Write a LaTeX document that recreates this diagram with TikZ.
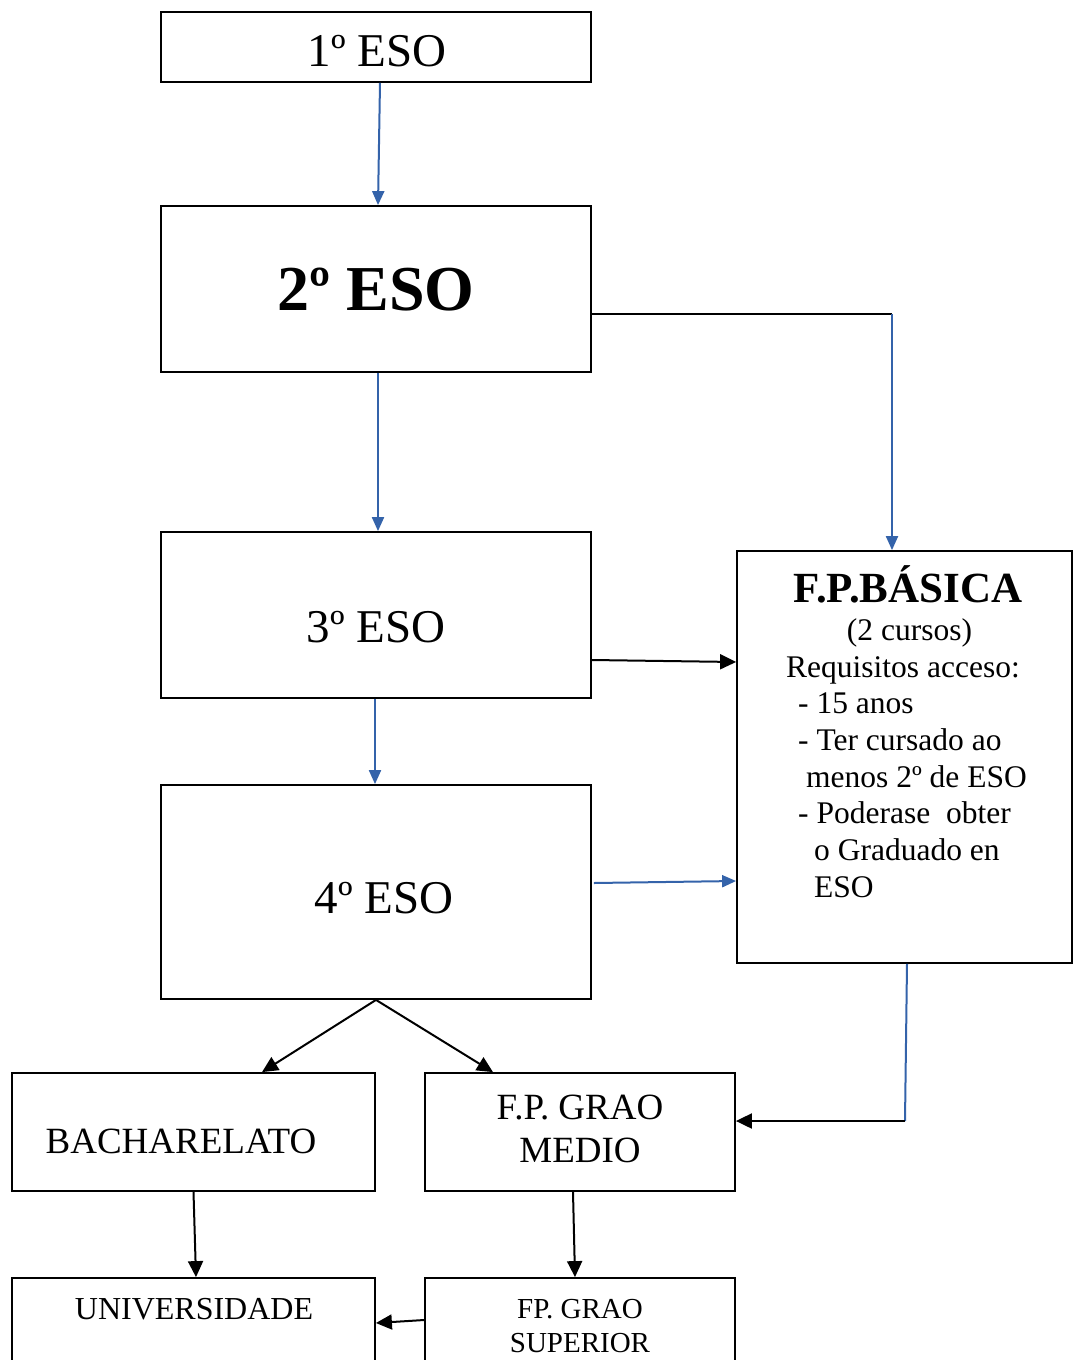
\documentclass[tikz,border=0pt]{standalone}
\usepackage{fontspec}
\setmainfont{Liberation Serif}
\usetikzlibrary{arrows.meta,calc}
\definecolor{arrblue}{RGB}{52,99,170}
\begin{document}
\begin{tikzpicture}[x=1pt,y=-1pt,
  box/.style={draw,line width=1.8pt,inner sep=0pt},
  lbl/.style={inner sep=0pt},
  bl/.style={arrblue,line width=2pt},
  bk/.style={black,line width=2pt},
  blarrow/.style={bl,-{Triangle[length=14pt,width=12pt]}},
  bkarrow/.style={bk,-{Triangle[length=16pt,width=15pt]}},
  big/.style={font=\fontsize{47}{56}\selectfont},
  body/.style={lbl,anchor=base west,font=\fontsize{31.5}{37}\selectfont},
]
\useasboundingbox (0,0) rectangle (1078,1360);
\clip (0,0) rectangle (1078,1360);

% boxes
\node[box,minimum width=430pt,minimum height=70pt]  (b1)   at (376,47) {};
\node[box,minimum width=430pt,minimum height=166pt] (b2)   at (376,289) {};
\node[box,minimum width=430pt,minimum height=166pt] (b3)   at (376,615) {};
\node[box,minimum width=430pt,minimum height=214pt] (b4)   at (376,892) {};
\node[box,minimum width=335pt,minimum height=412pt] (fp)   at (904.5,757) {};
\node[box,minimum width=363pt,minimum height=118pt] (bach) at (193.5,1132) {};
\node[box,minimum width=310pt,minimum height=118pt] (fpgm) at (580,1132) {};
\node[box,minimum width=363pt,minimum height=120pt] (uni)  at (193.5,1338) {};
\node[box,minimum width=310pt,minimum height=120pt] (fpgs) at (580,1338) {};

% texts
\node[lbl,big] (t1) at (377,51) {1º ESO};
\node[lbl,font=\bfseries\fontsize{64}{70}\selectfont] (t2) at (376,290) {2º ESO};
\node[lbl,big] (t3) at (376,627) {3º ESO};
\node[lbl,big] (t4) at (384,898) {4º ESO};

\node[lbl,anchor=base,font=\bfseries\fontsize{43}{50}\selectfont] (fpt) at (908,602) {F.P.BÁSICA};
\node[lbl,anchor=base,font=\fontsize{31.5}{37}\selectfont] (fp1) at (909.5,640) {(2 cursos)};
\node[body] (fp2) at (786,677) {Requisitos acceso:};
\node[body] (fp3) at (798,713) {- 15 anos};
\node[body] (fp4) at (798,750) {- Ter cursado ao};
\node[body] (fp5) at (806,787) {menos 2º de ESO};
\node[body] (fp6) at (798,823) {- Poderase\ \ obter};
\node[body] (fp7) at (814,860) {o Graduado en};
\node[body] (fp8) at (814,897) {ESO};

\node[lbl,font=\fontsize{37}{43}\selectfont] (tbach) at (181,1141) {BACHARELATO};
\node[lbl,font=\fontsize{37}{43}\selectfont] (tgm1) at (580,1107) {F.P. GRAO};
\node[lbl,font=\fontsize{37}{43}\selectfont] (tgm2) at (580,1150) {MEDIO};
\node[lbl,font=\fontsize{32}{38}\selectfont] (tuni) at (194,1309) {UNIVERSIDADE};
\node[lbl,font=\fontsize{29}{33}\selectfont] (tgs1) at (580,1309) {FP. GRAO};
\node[lbl,font=\fontsize{29}{33}\selectfont] (tgs2) at (580,1343) {SUPERIOR};

% connectors
\draw[blarrow] ([xshift=4pt]b1.south) -- ([xshift=2pt]b2.north);
\draw[blarrow] ([xshift=2pt]b2.south) -- ([xshift=2pt]b3.north);
\coordinate (c1) at (892,314);
\draw[bk] ([yshift=-25pt]b2.east) -- (c1);
\draw[blarrow] (c1) -- (c1 |- fp.north);
\draw[bkarrow] ([yshift=-45pt]b3.east) -- ([yshift=95pt]fp.west);
\draw[blarrow] ([xshift=-1pt]b3.south) -- ([xshift=-1pt]b4.north);
\draw[blarrow] ([xshift=2pt,yshift=9pt]b4.east) -- ([yshift=-124pt]fp.west);
\draw[bkarrow] (b4.south) -- ([xshift=68.5pt]bach.north);
\draw[bkarrow] (b4.south) -- ([xshift=-87pt]fpgm.north);
\coordinate (c2) at (905,1121);
\draw[bl] ([xshift=2.5pt]fp.south) -- (c2);
\draw[bkarrow] (c2) -- ([yshift=11pt]fpgm.east);
\draw[bkarrow] (bach.south) -- ([xshift=2.5pt]uni.north);
\draw[bkarrow] ([xshift=-7pt]fpgm.south) -- ([xshift=-5pt]fpgs.north);
\draw[bkarrow] ([yshift=18pt]fpgs.west) -- ([yshift=15pt]uni.east);
\end{tikzpicture}
\end{document}
